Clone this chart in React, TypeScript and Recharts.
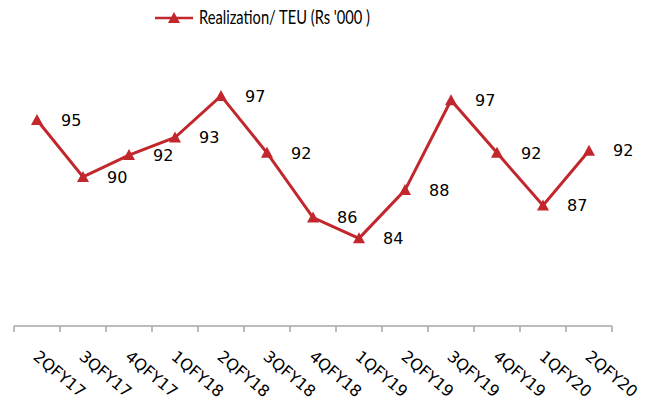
import { LabelList, Legend, Line, LineChart, XAxis, YAxis } from "recharts";

const quarters = [
  "2QFY17",
  "3QFY17",
  "4QFY17",
  "1QFY18",
  "2QFY18",
  "3QFY18",
  "4QFY18",
  "1QFY19",
  "2QFY19",
  "3QFY19",
  "4QFY19",
  "1QFY20",
  "2QFY20",
];

const realization = [94.8, 89.6, 91.6, 93.2, 97.0, 91.8, 85.9, 84.0, 88.4, 96.6, 91.8, 87.0, 92.0];

const seriesName = "Realization/ TEU (Rs '000 )";

const RED = "#C1272D";
const AXIS = "#A6A6A6";

const data = quarters.map((q, i) => ({ idx: i, quarter: q, value: realization[i] }));

// ticks at category boundaries get a tick mark, the centres get the label
const tickPositions = quarters.flatMap((_, i) => [i - 0.5, i]).concat(quarters.length - 0.5);

function QuarterTick(props: any) {
  const { x, y, payload } = props;
  const v = payload.value as number;
  if (!Number.isInteger(v)) {
    return <line x1={x} x2={x} y1={y} y2={y + 6} stroke={AXIS} strokeWidth={1.5} />;
  }
  const tx = x + 3;
  const ty = y + 23;
  return (
    <text
      x={tx}
      y={ty}
      dy="0.75em"
      transform={`rotate(40, ${tx}, ${ty})`}
      textAnchor="start"
      fontFamily="DejaVu Sans"
      fontSize={16}
      fill="#000"
    >
      {quarters[v]}
    </text>
  );
}

function Triangle(props: any) {
  const { cx, cy } = props;
  if (cx == null || cy == null) return null;
  return <path d={`M${cx},${cy - 6} L${cx + 6},${cy + 5} L${cx - 6},${cy + 5} Z`} fill={RED} />;
}

function LegendBox() {
  return (
    <svg width={657} height={28} style={{ display: "block" }}>
      <line x1={155} x2={193} y1={16} y2={16} stroke={RED} strokeWidth={2.5} />
      <path d="M174,10 L180,21 L168,21 Z" fill={RED} />
      <text
        x={199}
        y={16}
        dy="0.35em"
        fontFamily="Lato"
        fontSize={18.5}
        textLength={171}
        lengthAdjust="spacingAndGlyphs"
        fill="#000"
      >
        {seriesName}
      </text>
    </svg>
  );
}

export default function App() {
  return (
    <div style={{ position: "absolute", left: 0, top: 0, width: 657, height: 410, background: "#fff" }}>
      <LineChart width={657} height={410} data={data} margin={{ top: 35, right: 45, bottom: 0, left: 14 }}>
        <Legend verticalAlign="top" content={<LegendBox />} wrapperStyle={{ top: 2, left: 0 }} />
        <YAxis hide domain={[76, 100]} />
        <XAxis
          type="number"
          dataKey="idx"
          domain={[-0.5, quarters.length - 0.5]}
          ticks={tickPositions}
          interval={0}
          allowDecimals
          tickLine={false}
          tickSize={0}
          tickMargin={0}
          axisLine={{ stroke: AXIS, strokeWidth: 1.5 }}
          tick={<QuarterTick />}
          height={84}
        />
        <Line
          dataKey="value"
          name={seriesName}
          stroke={RED}
          strokeWidth={3}
          dot={<Triangle />}
          activeDot={false}
          isAnimationActive={false}
        >
          <LabelList
            dataKey="value"
            position="right"
            offset={24}
            formatter={(v: any) => Math.round(Number(v))}
            fill="#000"
            fontSize={16}
            fontFamily="DejaVu Sans"
          />
        </Line>
      </LineChart>
    </div>
  );
}
